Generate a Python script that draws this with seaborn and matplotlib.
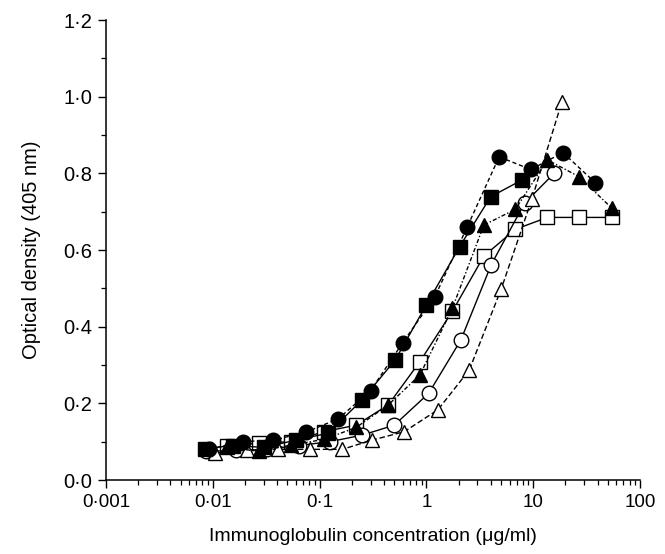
import matplotlib
matplotlib.use("Agg")
import matplotlib.pyplot as plt
import matplotlib.ticker as mticker
import seaborn as sns
import numpy as np

sns.set_theme(style="ticks")
plt.rcParams['font.family'] = ['Liberation Sans', 'DejaVu Sans']
plt.rcParams['text.color'] = 'black'
plt.rcParams['axes.labelcolor'] = 'black'

# ---- data ----
fc_x = [0.0093, 0.019, 0.037, 0.075, 0.15, 0.30, 0.60, 1.2, 2.4, 4.8, 9.5, 19, 38]
fc_y = [0.08, 0.10, 0.104, 0.125, 0.16, 0.233, 0.358, 0.478, 0.659, 0.843, 0.81, 0.854, 0.776]

fs_x = [0.0085, 0.0155, 0.030, 0.060, 0.12, 0.25, 0.51, 1.0, 2.05, 4.0, 7.9]
fs_y = [0.082, 0.09, 0.085, 0.104, 0.122, 0.209, 0.313, 0.457, 0.609, 0.739, 0.783]

ft_x = [0.0135, 0.027, 0.054, 0.11, 0.22, 0.44, 0.87, 1.75, 3.45, 6.8, 13.6, 27, 54.5]
ft_y = [0.085, 0.075, 0.091, 0.106, 0.137, 0.196, 0.274, 0.448, 0.665, 0.706, 0.835, 0.791, 0.709]

os_x = [0.0135, 0.027, 0.054, 0.11, 0.22, 0.44, 0.87, 1.75, 3.45, 6.8, 13.6, 27, 54.5]
os_y = [0.09, 0.096, 0.10, 0.126, 0.143, 0.196, 0.309, 0.44, 0.584, 0.654, 0.685, 0.685, 0.685]

oc_x = [0.0087, 0.0165, 0.032, 0.064, 0.125, 0.25, 0.50, 1.05, 2.1, 4.05, 8.3, 15.7]
oc_y = [0.075, 0.077, 0.08, 0.09, 0.10, 0.117, 0.143, 0.226, 0.365, 0.562, 0.722, 0.80]

ot_x = [0.0104, 0.021, 0.041, 0.081, 0.163, 0.31, 0.62, 1.28, 2.52, 5.0, 9.7, 18.5]
ot_y = [0.07, 0.078, 0.08, 0.08, 0.08, 0.104, 0.126, 0.183, 0.287, 0.497, 0.732, 0.985]

x_ticks = [0.001, 0.01, 0.1, 1, 10, 100]
x_tick_labels = ["0·001", "0·01", "0·1", "1", "10", "100"]
y_ticks = [0.0, 0.2, 0.4, 0.6, 0.8, 1.0, 1.2]
y_tick_labels = ["0·0", "0·2", "0·4", "0·6", "0·8", "1·0", "1·2"]

fig = plt.figure(figsize=(6.65, 5.54), dpi=100)
ax = fig.add_axes([106/665, 74/554, (640-106)/665, (480-20)/554])

def draw(x, y, marker, face, ls, ms, dashes=None):
    kw = dict(x=x, y=y, ax=ax, color="black", marker=marker, markersize=ms,
              markerfacecolor=face, markeredgecolor="black", markeredgewidth=1.0,
              linewidth=1.0, linestyle=ls, errorbar=None, estimator=None, sort=False)
    line_ax = sns.lineplot(**kw)
    if dashes is not None:
        line_ax.lines[-1].set_dashes(dashes)

draw(os_x, os_y, "s", "white", "-", 10)
draw(oc_x, oc_y, "o", "white", "-", 10.5)
draw(ot_x, ot_y, "^", "white", "--", 10.5, dashes=(4, 2))
draw(ft_x, ft_y, "^", "black", "-.", 10.5, dashes=(3, 1.5, 1, 1.5))
draw(fs_x, fs_y, "s", "black", "-", 10)
draw(fc_x, fc_y, "o", "black", "--", 10.5, dashes=(3, 2))

ax.set_xscale("log")
ax.set_xlim(0.001, 100)
ax.set_ylim(0, 1.2)
ax.set_xticks(x_ticks)
ax.set_xticklabels(x_tick_labels)
ax.xaxis.set_minor_locator(mticker.LogLocator(base=10, subs=np.arange(2, 10)))
ax.xaxis.set_minor_formatter(mticker.NullFormatter())
ax.set_yticks(y_ticks)
ax.set_yticklabels(y_tick_labels)
ax.yaxis.set_minor_locator(mticker.MultipleLocator(0.1))

ax.tick_params(axis="both", which="major", direction="out", length=6, width=1.0,
               colors="black", pad=4)
ax.tick_params(axis="x", which="major", labelsize=13.5)
ax.tick_params(axis="y", which="major", labelsize=14.5)
ax.tick_params(axis="both", which="minor", direction="out", length=3.5, width=0.9,
               colors="black")

for s in ["top", "right"]:
    ax.spines[s].set_visible(False)
for s in ["left", "bottom"]:
    ax.spines[s].set_linewidth(1.1)
    ax.spines[s].set_color("black")

ax.set_xlabel("Immunoglobulin concentration (μg/ml)", fontsize=14, labelpad=12,
              color="black")
ax.set_ylabel("Optical density (405 nm)", fontsize=14.5, labelpad=16, color="black")

fig.savefig("out.png", dpi=100)
